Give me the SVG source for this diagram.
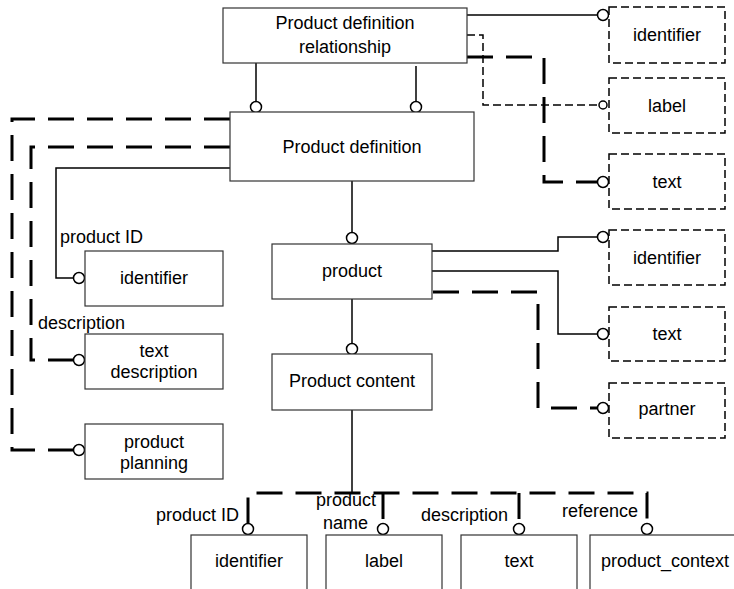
<svg xmlns="http://www.w3.org/2000/svg" width="734" height="589" viewBox="0 0 734 589">
<style>
text{font-family:"Liberation Sans",Arial,sans-serif;font-size:18px;fill:#000}
.c{text-anchor:middle}
.box{fill:#fff;stroke:#333;stroke-width:1.2}
.dbox{fill:#fff;stroke:#000;stroke-width:1.5;stroke-dasharray:8 4}
.solid{fill:none;stroke:#000;stroke-width:1.5}
.thick{fill:none;stroke:#000;stroke-width:3;stroke-dasharray:26 13}
.thin{fill:none;stroke:#000;stroke-width:1.5;stroke-dasharray:8 4}
.o{fill:#fff;stroke:#000;stroke-width:1.5}
</style>
<rect width="734" height="589" fill="#fff"/>
<g id="connectors">
  <!-- PDR to PD -->
  <path class="solid" d="M256,63 V101.5"/>
  <path class="solid" d="M416,66 V101.5"/>
  <circle class="o" cx="256" cy="107" r="5.5"/>
  <circle class="o" cx="416" cy="107" r="5.5"/>
  <!-- PDR to right side -->
  <path class="solid" d="M467,15 H597.5"/>
  <circle class="o" cx="603" cy="15" r="5.5"/>
  <path class="thin" d="M467,35 H483 V105 H599"/>
  <circle class="o" cx="603" cy="105" r="4" stroke-width="1.2"/>
  <path class="thick" d="M467,57 H544 V182 H597.5"/>
  <circle class="o" cx="603" cy="182" r="5.5"/>
  <!-- PD to left side -->
  <path class="thick" d="M230,119 H12 V450 H73.5"/>
  <circle class="o" cx="79" cy="450" r="5.5"/>
  <path class="thick" d="M230,147 H31 V360 H73.5"/>
  <circle class="o" cx="79" cy="360" r="5.5"/>
  <path class="solid" d="M230,168 H56 V278 H73.5"/>
  <circle class="o" cx="79" cy="278" r="5.5"/>
  <!-- PD to product -->
  <path class="solid" d="M352,181 V232.5"/>
  <circle class="o" cx="352" cy="238" r="5.5"/>
  <!-- product to right side -->
  <path class="solid" d="M430,251 H558 V237 H597.5"/>
  <circle class="o" cx="603" cy="237" r="5.5"/>
  <path class="solid" d="M432,271 H558 V334 H597.5"/>
  <circle class="o" cx="603" cy="334" r="5.5"/>
  <path class="thick" d="M433,292 H538 V408 H597.5"/>
  <circle class="o" cx="603" cy="408" r="5.5"/>
  <!-- product to product content -->
  <path class="solid" d="M352,299 V343.5"/>
  <circle class="o" cx="352" cy="349" r="5.5"/>
  <!-- product content to bottom -->
  <path class="solid" d="M352,410 V493"/>
  <path class="thick" d="M248,523.5 V493 H647 V523.5"/>
  <path class="thick" d="M383,493 V523.5" stroke-dasharray="none"/>
  <path class="thick" d="M519,493 V523.5" stroke-dasharray="6 10"/>
  <circle class="o" cx="248" cy="529" r="5.5"/>
  <circle class="o" cx="383" cy="529" r="5.5"/>
  <circle class="o" cx="519" cy="529" r="5.5"/>
  <circle class="o" cx="647" cy="529" r="5.5"/>
  <!-- connector labels -->
  <text x="60" y="243">product ID</text>
  <text x="38" y="329">description</text>
  <text x="156" y="521">product ID</text>
  <text x="316" y="506">product</text>
  <text x="323" y="529">name</text>
  <text x="421" y="521">description</text>
  <text x="562" y="517">reference</text>
</g>
<g id="pdr">
  <rect class="box" x="223" y="8" width="244" height="55"/>
  <text class="c" x="345" y="29">Product definition</text>
  <text class="c" x="345" y="53">relationship</text>
</g>
<g id="pd">
  <rect class="box" x="230" y="112" width="244" height="69"/>
  <text class="c" x="352" y="153">Product definition</text>
</g>
<g id="product">
  <rect class="box" x="272" y="244" width="160" height="55"/>
  <text class="c" x="352" y="277">product</text>
</g>
<g id="product-content">
  <rect class="box" x="272" y="354" width="160" height="56"/>
  <text class="c" x="352" y="387">Product content</text>
</g>
<g id="id-left">
  <rect class="box" x="85" y="251" width="138" height="55"/>
  <text class="c" x="154" y="284">identifier</text>
</g>
<g id="text-desc">
  <rect class="box" x="85" y="334" width="138" height="55"/>
  <text class="c" x="154" y="357">text</text>
  <text class="c" x="154" y="378">description</text>
</g>
<g id="planning">
  <rect class="box" x="85" y="424" width="138" height="55"/>
  <text class="c" x="154" y="448">product</text>
  <text class="c" x="154" y="469">planning</text>
</g>
<g id="r-identifier1">
  <rect class="dbox" x="609" y="7" width="116" height="56"/>
  <text class="c" x="667" y="41">identifier</text>
</g>
<g id="r-label">
  <rect class="dbox" x="609" y="78" width="116" height="55"/>
  <text class="c" x="667" y="112">label</text>
</g>
<g id="r-text1">
  <rect class="dbox" x="609" y="154" width="116" height="55"/>
  <text class="c" x="667" y="188">text</text>
</g>
<g id="r-identifier2">
  <rect class="dbox" x="609" y="230" width="116" height="55"/>
  <text class="c" x="667" y="264">identifier</text>
</g>
<g id="r-text2">
  <rect class="dbox" x="609" y="307" width="116" height="54"/>
  <text class="c" x="667" y="340">text</text>
</g>
<g id="r-partner">
  <rect class="dbox" x="609" y="383" width="116" height="55"/>
  <text class="c" x="667" y="415">partner</text>
</g>
<g id="b-identifier">
  <rect class="box" x="191" y="535" width="116" height="60"/>
  <text class="c" x="249" y="567">identifier</text>
</g>
<g id="b-label">
  <rect class="box" x="326" y="535" width="116" height="60"/>
  <text class="c" x="384" y="567">label</text>
</g>
<g id="b-text">
  <rect class="box" x="461" y="535" width="116" height="60"/>
  <text class="c" x="519" y="567">text</text>
</g>
<g id="b-context">
  <rect class="box" x="590" y="535" width="150" height="60"/>
  <text class="c" x="665" y="567">product_context</text>
</g>
</svg>
